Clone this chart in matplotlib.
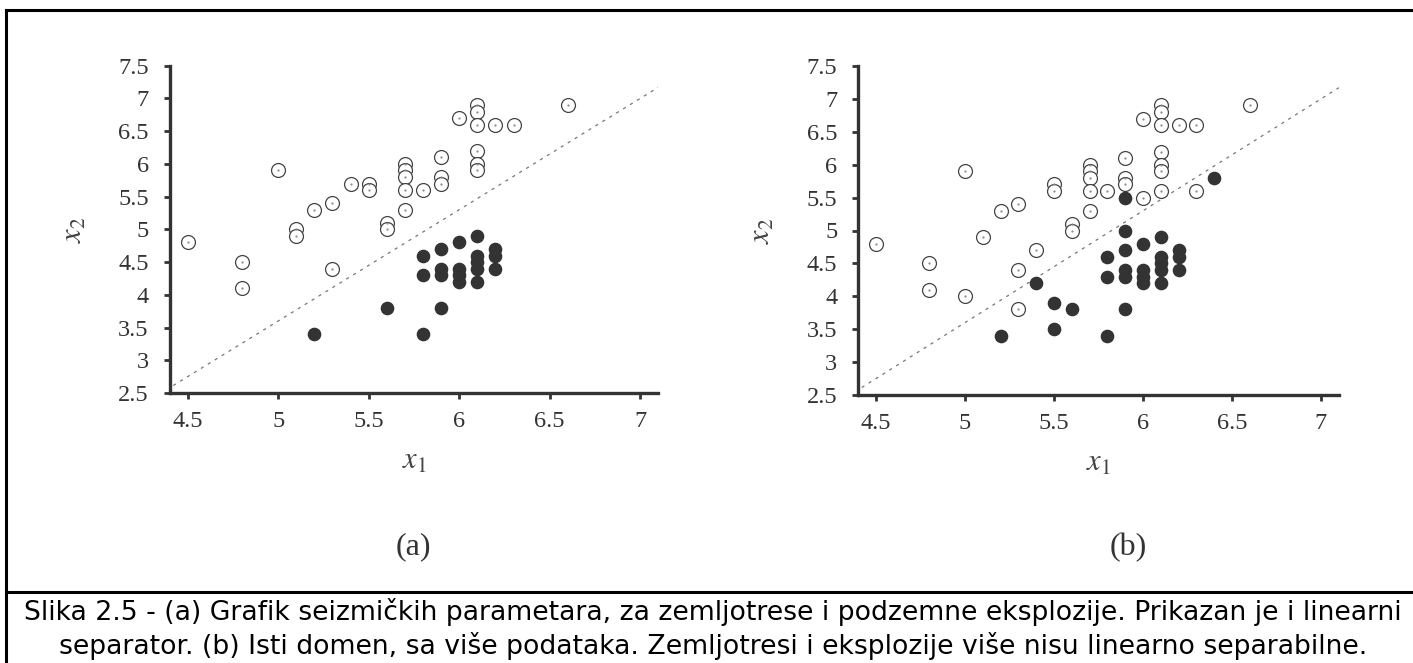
import numpy as np
import matplotlib
matplotlib.use("Agg")
import matplotlib.pyplot as plt
from matplotlib.lines import Line2D

plt.rcParams["mathtext.fontset"] = "stix"

# panel (a): earthquakes (open) and explosions (filled)
a_open_x = [4.5, 4.8, 4.8, 5.0, 5.1, 5.1, 5.2, 5.3, 5.3, 5.4, 5.5, 5.5, 5.6, 5.6,
            5.7, 5.7, 5.7, 5.7, 5.7, 5.8, 5.9, 5.9, 5.9, 6.0, 6.1, 6.1, 6.1, 6.1,
            6.1, 6.1, 6.2, 6.3, 6.6]
a_open_y = [4.8, 4.5, 4.1, 5.9, 5.0, 4.9, 5.3, 5.4, 4.4, 5.7, 5.7, 5.6, 5.1, 5.0,
            6.0, 5.9, 5.8, 5.6, 5.3, 5.6, 6.1, 5.8, 5.7, 6.7, 6.9, 6.8, 6.6, 6.2,
            6.0, 5.9, 6.6, 6.6, 6.9]
a_fill_x = [5.2, 5.6, 5.8, 5.9, 5.8, 5.8, 5.9, 5.9, 5.9, 6.0, 6.0, 6.0, 6.0,
            6.1, 6.1, 6.1, 6.1, 6.1, 6.2, 6.2, 6.2]
a_fill_y = [3.4, 3.8, 3.4, 3.8, 4.6, 4.3, 4.7, 4.4, 4.3, 4.8, 4.4, 4.3, 4.2,
            4.9, 4.6, 4.5, 4.4, 4.2, 4.7, 4.6, 4.4]

# panel (b): same domain with more data
b_open_x = [4.5, 4.8, 4.8, 5.0, 5.0, 5.1, 5.2, 5.3, 5.3, 5.3, 5.4, 5.5, 5.5,
            5.6, 5.6, 5.7, 5.7, 5.7, 5.7, 5.7, 5.8, 5.9, 5.9, 5.9, 6.0, 6.0,
            6.1, 6.1, 6.1, 6.1, 6.1, 6.1, 6.1, 6.2, 6.3, 6.3, 6.6]
b_open_y = [4.8, 4.5, 4.1, 5.9, 4.0, 4.9, 5.3, 5.4, 4.4, 3.8, 4.7, 5.7, 5.6,
            5.1, 5.0, 6.0, 5.9, 5.8, 5.6, 5.3, 5.6, 6.1, 5.8, 5.7, 6.7, 5.5,
            6.9, 6.8, 6.6, 6.2, 6.0, 5.9, 5.6, 6.6, 6.6, 5.6, 6.9]
b_fill_x = [5.2, 5.4, 5.5, 5.5, 5.6, 5.8, 5.8, 5.8, 5.9, 5.9, 5.9, 5.9, 5.9,
            5.9, 6.0, 6.0, 6.0, 6.0, 6.1, 6.1, 6.1, 6.1, 6.1, 6.2, 6.2, 6.2, 6.4]
b_fill_y = [3.4, 4.2, 3.9, 3.5, 3.8, 3.4, 4.6, 4.3, 3.8, 5.5, 5.0, 4.7, 4.4,
            4.3, 4.8, 4.4, 4.3, 4.2, 4.9, 4.6, 4.5, 4.4, 4.2, 4.7, 4.6, 4.4, 5.8]

# linear separator x2 = 1.7 x1 - 4.9
sep_w, sep_b = 1.7, -4.9
sep_x = np.array([4.42, 7.1])

xticks = [4.5, 5, 5.5, 6, 6.5, 7]
xticklabels = ["4.5", "5", "5.5", "6", "6.5", "7"]
yticks = [2.5, 3, 3.5, 4, 4.5, 5, 5.5, 6, 6.5, 7, 7.5]
yticklabels = ["2.5", "3", "3.5", "4", "4.5", "5", "5.5", "6", "6.5", "7", "7.5"]

ink = "#333333"
W, H = 1413, 663
fig = plt.figure(figsize=(W / 100, H / 100), dpi=100)


def px_axes(x0, x1, y_top, y_bot):
    return fig.add_axes([x0 / W, 1 - y_bot / H, (x1 - x0) / W, (y_bot - y_top) / H])


def panel(ax, ox, oy, fx, fy, tag, tag_xy):
    ax.plot(sep_x, sep_w * sep_x + sep_b, color="#777777", lw=0.9,
            linestyle=(0, (2.5, 4)), zorder=1)
    ax.plot(ox, oy, "o", ms=10, mfc="white", mec="#444444", mew=0.9, zorder=3)
    ax.plot(ox, oy, ".", ms=1.2, color="#888888", zorder=4)
    ax.plot(fx, fy, "o", ms=8.8, color="#333333", mec="#333333", zorder=3)
    ax.set_xlim(4.4, 7.1)
    ax.set_ylim(2.5, 7.5)
    for s in ("top", "right"):
        ax.spines[s].set_visible(False)
    for s in ("left", "bottom"):
        ax.spines[s].set_linewidth(2.4)
        ax.spines[s].set_color(ink)
    ax.set_xticks(xticks, xticklabels)
    ax.set_yticks(yticks, yticklabels)
    ax.tick_params(direction="out", length=4, width=2, color=ink,
                   labelcolor=ink, labelsize=17.5)
    ax.tick_params(axis="y", pad=11)
    ax.tick_params(axis="x", pad=9)
    for lab in ax.get_xticklabels() + ax.get_yticklabels():
        lab.set_family("Liberation Serif")
    ax.set_xlabel(r"$x_1$", fontsize=22, color="#444444", labelpad=10)
    ax.set_ylabel(r"$x_2$", fontsize=22, color="#444444", labelpad=22)
    fig.text(tag_xy[0] / W, 1 - tag_xy[1] / H, tag, ha="center", va="center",
             fontsize=23, family="Liberation Serif", color=ink)
    ax.patch.set_alpha(0)


ax_a = px_axes(169.6, 658.3, 65.7, 393)
panel(ax_a, a_open_x, a_open_y, a_fill_x, a_fill_y, "(a)", (413, 547))
ax_b = px_axes(858.2, 1338.8, 66, 395)
panel(ax_b, b_open_x, b_open_y, b_fill_x, b_fill_y, "(b)", (1128, 548))

# frame and caption box
lw = 2.2
fig.add_artist(Line2D([6 / W, 6 / W], [0, 1 - 10 / H], color="black", lw=lw,
                      transform=fig.transFigure))
fig.add_artist(Line2D([6 / W, 1], [1 - 10 / H, 1 - 10 / H], color="black", lw=lw,
                      transform=fig.transFigure))
fig.add_artist(Line2D([6 / W, 1], [1 - 592 / H, 1 - 592 / H], color="black", lw=lw,
                      transform=fig.transFigure))

cap1 = ("Slika 2.5 - (a) Grafik seizmičkih parametara, za zemljotrese i podzemne "
        "eksplozije. Prikazan je i linearni")
cap2 = ("separator. (b) Isti domen, sa više podataka. Zemljotresi i eksplozije "
        "više nisu linearno separabilne.")
fig.text(713 / W, 1 - 612 / H, cap1, ha="center", va="center", fontsize=19.2,
         family="DejaVu Sans", color="black")
fig.text(713 / W, 1 - 646 / H, cap2, ha="center", va="center", fontsize=19.2,
         family="DejaVu Sans", color="black")

fig.savefig("out.png", dpi=100)
